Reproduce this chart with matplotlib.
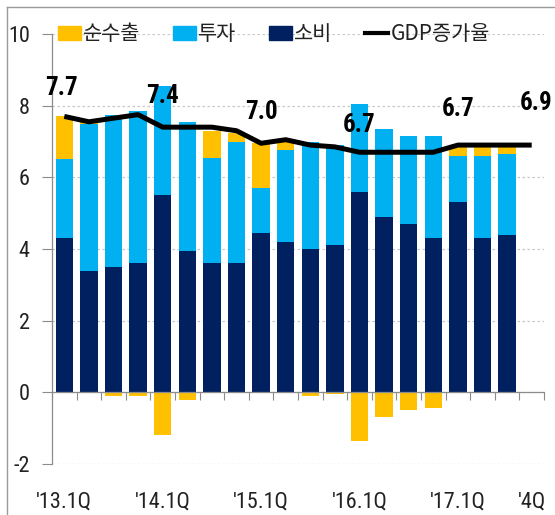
import numpy as np
import matplotlib
matplotlib.use("Agg")
import matplotlib.pyplot as plt
from matplotlib import font_manager as fm
from matplotlib.lines import Line2D
from matplotlib.patches import Patch

# ---------------- data ----------------
quarters = ["'13.1Q", "'13.2Q", "'13.3Q", "'13.4Q",
            "'14.1Q", "'14.2Q", "'14.3Q", "'14.4Q",
            "'15.1Q", "'15.2Q", "'15.3Q", "'15.4Q",
            "'16.1Q", "'16.2Q", "'16.3Q", "'16.4Q",
            "'17.1Q", "'17.2Q", "'17.3Q", "'4Q"]
consumption = [4.3, 3.4, 3.5, 3.6, 5.5, 3.95, 3.6, 3.6, 4.45, 4.2,
               4.0, 4.1, 5.6, 4.9, 4.7, 4.3, 5.3, 4.3, 4.4]
investment = [2.2, 4.1, 4.25, 4.25, 3.05, 3.6, 2.95, 3.4, 1.25, 2.55,
              3.0, 2.8, 2.45, 2.45, 2.45, 2.85, 1.3, 2.3, 2.25]
net_exports = [1.2, 0.05, -0.1, -0.1, -1.2, -0.2, 0.75, 0.25, 1.25, 0.25,
               -0.1, -0.05, -1.35, -0.7, -0.5, -0.45, 0.3, 0.25, 0.2]
gdp_growth = [7.7, 7.55, 7.65, 7.75, 7.4, 7.4, 7.4, 7.3, 6.95, 7.05,
              6.9, 6.85, 6.7, 6.7, 6.7, 6.7, 6.9, 6.9, 6.9, 6.9]
shown_ticks = [0, 4, 8, 12, 16, 19]
label_idx = [0, 4, 8, 12, 16, 19]
label_text = ["7.7", "7.4", "7.0", "6.7", "6.7", "6.9"]
legend_names = ["순수출", "투자", "소비", "GDP증가율"]

# ---------------- fonts ----------------
def pick(names):
    for n in names:
        try:
            fm.findfont(fm.FontProperties(family=n), fallback_to_default=False)
            return n
        except Exception:
            pass
    return "DejaVu Sans"

narrow = pick(["Liberation Sans Narrow", "Roboto Condensed", "DejaVu Sans Condensed", "Liberation Sans"])
kr = "Noto Sans CJK KR"

# ---------------- style ----------------
C_NX = "#FFC000"
C_INV = "#00B0F0"
C_CON = "#002060"
GRID = "#C9C9C9"
AXC = "#8C8C8C"

fig = plt.figure(figsize=(5.55, 5.15), dpi=100)
ax = fig.add_axes([52 / 555, 1 - 464 / 515, (544 - 52) / 555, (464 - 34) / 515])

c = np.array(consumption)
inv = np.array(investment)
nx = np.array(net_exports)
xb = np.arange(len(c))
w = 0.7

ax.bar(xb, c, w, color=C_CON, zorder=2)
ax.bar(xb, inv, w, bottom=c, color=C_INV, zorder=2)
ax.bar(xb, nx, w, bottom=np.where(nx > 0, c + inv, 0), color=C_NX, zorder=2)

xl = np.arange(len(gdp_growth))
ax.plot(xl, gdp_growth, color="black", lw=3.6, zorder=4, solid_capstyle="butt")

offsets = [(-2, 12), (0, 14), (0, 14), (0, 11), (0, 17), (3, 22)]
for i, t, off in zip(label_idx, label_text, offsets):
    ax.annotate(t, (xl[i], gdp_growth[i]), xytext=off, textcoords="offset points",
                ha="center", va="bottom", fontsize=18, fontweight="bold",
                family=narrow, color="black", zorder=5)

ax.set_xlim(-0.5, len(quarters) - 0.5)
ax.set_ylim(-2, 10)
ax.set_yticks([-2, 0, 2, 4, 6, 8, 10])
ax.set_yticklabels(["-2", "0", "2", "4", "6", "8", "10"], family=narrow, fontsize=16)
ax.tick_params(axis="y", length=7, width=0.8, color=AXC, pad=9, labelcolor="#222222")
ax.yaxis.grid(True, color=GRID, ls=(0, (2, 2)), lw=0.9, zorder=0)
ax.set_axisbelow(True)

for s in ["top", "right"]:
    ax.spines[s].set_visible(False)
ax.spines["left"].set_color(AXC)
ax.spines["left"].set_linewidth(0.9)
ax.spines["bottom"].set_position(("data", 0))
ax.spines["bottom"].set_color(AXC)
ax.spines["bottom"].set_linewidth(0.9)
ax.set_xticks(np.arange(len(quarters) + 1) - 0.5)
ax.set_xticklabels([])
ax.tick_params(axis="x", length=6, width=0.8, color=AXC, direction="out")

sec = ax.secondary_xaxis(0.0)
sec.set_xticks([xb_i for xb_i in shown_ticks])
sec.set_xticklabels([quarters[i] for i in shown_ticks], family=narrow, fontsize=16, color="#222222")
sec.tick_params(length=0, pad=20)
sec.spines["bottom"].set_visible(False)

handles = [Patch(color=C_NX), Patch(color=C_INV), Patch(color=C_CON),
           Line2D([], [], color="black", lw=3)]
leg = ax.legend(handles, legend_names, loc="upper left", bbox_to_anchor=(-0.005, 1.045),
                ncol=4, frameon=False, prop={"family": kr, "size": 15},
                handlelength=1.1, handleheight=0.65, handletextpad=0.12,
                columnspacing=1.55, borderaxespad=0)
for t in leg.get_texts():
    t.set_color("#222222")

# outer frame lines of the source graphic
fig.add_artist(Line2D([7 / 555, 7 / 555], [0, 1 - 7 / 515], transform=fig.transFigure, color="#9A9A9A", lw=1))
fig.add_artist(Line2D([7 / 555, 1], [1 - 7 / 515, 1 - 7 / 515], transform=fig.transFigure, color="#9A9A9A", lw=1))

fig.savefig("out.png", dpi=100)
